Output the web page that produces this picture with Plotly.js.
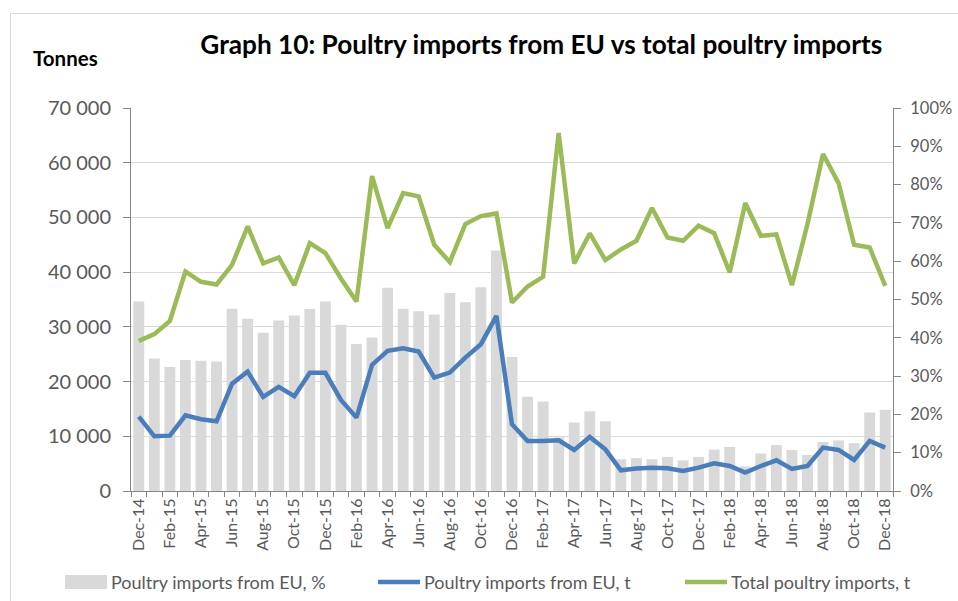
<!DOCTYPE html>
<html>
<head>
<meta charset="utf-8">
<script src="https://cdn.plot.ly/plotly-3.0.1.min.js"></script>
<style>
  html, body { margin: 0; padding: 0; background: #fff; overflow: hidden; }
  #frame { position: absolute; left: 10px; top: 13px; width: 1000px; height: 700px; border: 1px solid #d9d9d9; }
  #chart { position: absolute; left: 0; top: 0; width: 958px; height: 601px; }
</style>
</head>
<body>
<div id="frame"></div>
<div id="chart"></div>
<script>
const months = ["Dec-14","Jan-15","Feb-15","Mar-15","Apr-15","May-15","Jun-15","Jul-15","Aug-15","Sep-15","Oct-15","Nov-15",
  "Dec-15","Jan-16","Feb-16","Mar-16","Apr-16","May-16","Jun-16","Jul-16","Aug-16","Sep-16","Oct-16","Nov-16",
  "Dec-16","Jan-17","Feb-17","Mar-17","Apr-17","May-17","Jun-17","Jul-17","Aug-17","Sep-17","Oct-17","Nov-17",
  "Dec-17","Jan-18","Feb-18","Mar-18","Apr-18","May-18","Jun-18","Jul-18","Aug-18","Sep-18","Oct-18","Nov-18","Dec-18"];

// Poultry imports from EU, % (right axis)
const euShare = [49.5,34.6,32.4,34.2,34.0,33.8,47.6,45.0,41.3,44.5,45.8,47.5,
  49.5,43.4,38.4,40.1,53.1,47.6,46.9,46.1,51.7,49.3,53.2,62.8,
  35.0,24.6,23.4,14.0,17.9,20.8,18.2,8.3,8.6,8.3,8.9,8.0,
  8.9,10.8,11.5,6.4,9.8,12.0,10.7,9.4,12.8,13.2,12.5,20.5,21.2];

// Poultry imports from EU, tonnes
const euTonnes = [13600,10000,10120,13840,13110,12740,19630,21830,17200,19020,17320,21590,
  21590,16650,13410,23050,25610,26100,25490,20730,21650,24390,26830,32010,
  12200,9150,9150,9270,7500,9880,7620,3780,4100,4270,4150,3660,
  4270,5060,4570,3350,4570,5610,4020,4570,7930,7500,5670,9150,7930];

// Total poultry imports, tonnes
const totalTonnes = [27440,28660,31100,40120,38230,37740,41340,48350,41590,42680,37620,45300,
  43480,38840,34630,57560,48050,54450,53840,45000,41830,48780,50240,50730,
  34450,37380,39150,65430,41590,47070,42200,44150,45730,51710,46340,45730,
  48480,47130,39940,52620,46650,46890,37620,48780,61590,56280,45000,44510,37500];

const seriesNames = ["Poultry imports from EU, %", "Poultry imports from EU, t", "Total poultry imports, t"];
const seriesColors = ["#d9d9d9", "#4a7ebb", "#9bbb59"];

const xIdx = months.map((_, i) => i);
const labelIdx = xIdx.filter(i => i % 2 === 0);
const labelText = labelIdx.map(i => months[i]);

const FONT = "Lato, 'Open Sans', sans-serif";
const GREYTXT = "#595959";
const AXIS = "#868686";

const W = 958, H = 601, ML = 131, MR = 65, MT = 108, MB = 110;
const PW = W - ML - MR, PH = H - MT - MB;
const px = X => (X - ML) / PW;
const py = Y => (H - MB - Y) / PH;

const traces = [
  {
    type: "bar", name: seriesNames[0],
    x: xIdx, y: euShare, yaxis: "y",
    marker: { color: seriesColors[0] }, hoverinfo: "skip"
  },
  {
    type: "scatter", mode: "lines", name: seriesNames[1],
    x: xIdx, y: euTonnes, yaxis: "y2",
    line: { color: seriesColors[1], width: 4.5 }
  },
  {
    type: "scatter", mode: "lines", name: seriesNames[2],
    x: xIdx, y: totalTonnes, yaxis: "y2",
    line: { color: seriesColors[2], width: 4.5 }
  }
];

// hand-placed legend (to reproduce the wide swatches of the original)
const legY = 582;
const legSwatchX = [65, 378, 685];
const shapes = [
  { type: "rect", xref: "paper", yref: "paper", x0: px(legSwatchX[0]), x1: px(legSwatchX[0] + 42),
    y0: py(legY + 7), y1: py(legY - 7), fillcolor: seriesColors[0], line: { width: 0 } },
  { type: "line", xref: "paper", yref: "paper", x0: px(legSwatchX[1]), x1: px(legSwatchX[1] + 42),
    y0: py(legY), y1: py(legY), line: { color: seriesColors[1], width: 4.5 } },
  { type: "line", xref: "paper", yref: "paper", x0: px(legSwatchX[2]), x1: px(legSwatchX[2] + 42),
    y0: py(legY), y1: py(legY), line: { color: seriesColors[2], width: 4.5 } }
];
const legendAnn = seriesNames.map((n, i) => ({
  text: n, xref: "paper", yref: "paper", x: px(legSwatchX[i] + 44), xanchor: "left",
  y: py(legY), yanchor: "middle", showarrow: false,
  font: { family: FONT, size: 18, color: GREYTXT }
}));

const layout = {
  width: W, height: H,
  paper_bgcolor: "rgba(0,0,0,0)", plot_bgcolor: "rgba(0,0,0,0)",
  margin: { l: ML, r: MR, t: MT, b: MB },
  separators: ". ",
  font: { family: FONT, color: GREYTXT, size: 17 },
  bargap: 0.3,
  showlegend: false,
  title: {
    text: "<b>Graph 10: Poultry imports from EU vs total poultry imports</b>",
    font: { family: FONT, size: 26.2, color: "#000" },
    xref: "container", x: 0.565, xanchor: "center",
    yref: "container", y: 1 - 45 / H, yanchor: "middle"
  },
  xaxis: {
    range: [-0.5, 48.5],
    tickmode: "array", tickvals: labelIdx, ticktext: labelText,
    tickangle: -90, ticks: "", tickfont: { size: 16, color: GREYTXT },
    showline: true, linecolor: AXIS, linewidth: 1,
    showgrid: false, zeroline: false,
    minor: { tick0: -0.5, dtick: 1, ticks: "outside", ticklen: 5, tickcolor: AXIS, showgrid: false }
  },
  yaxis: {
    side: "right", range: [0, 100], dtick: 10, ticksuffix: "%",
    ticks: "outside", ticklen: 7, tickcolor: AXIS, ticklabelstandoff: 6,
    showline: true, linecolor: AXIS, showgrid: false, zeroline: false,
    tickfont: { size: 16.5, color: GREYTXT }
  },
  yaxis2: {
    overlaying: "y", side: "left", range: [0, 70000], dtick: 10000, tickformat: ",d",
    ticks: "outside", ticklen: 7, tickcolor: AXIS, ticklabelstandoff: 8,
    showline: true, linecolor: AXIS, showgrid: true, gridcolor: "#d9d9d9", zeroline: false,
    tickfont: { size: 20, color: GREYTXT }
  },
  shapes: shapes,
  annotations: [
    {
      text: "<b>Tonnes</b>", xref: "paper", yref: "paper",
      x: px(31), xanchor: "left",
      y: py(58), yanchor: "middle",
      showarrow: false, font: { family: FONT, size: 20.5, color: "#000" }
    }
  ].concat(legendAnn)
};

Plotly.newPlot("chart", traces, layout, { displayModeBar: false, staticPlot: true });
</script>
</body>
</html>
